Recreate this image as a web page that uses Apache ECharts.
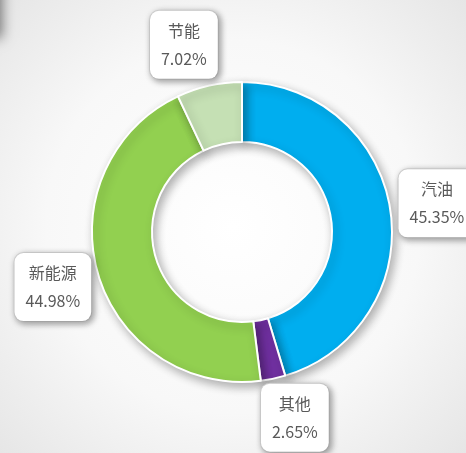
<!DOCTYPE html>
<html lang="zh">
<head>
    <meta charset="UTF-8">
    <title>能源占比</title>
    <style>
        html, body { margin: 0; padding: 0; }
        #main {
            width: 466px;
            height: 453px;
        }
    </style>
</head>
<body>
<div id="main"></div>
<script src="https://cdn.jsdelivr.net/npm/echarts@6/dist/echarts.min.js"></script>
<script>
    // 数据
    const names = ['汽油', '其他', '新能源', '节能'];
    const shares = [45.35, 2.65, 44.98, 7.02];
    const colors = ['#00AEEF', '#7030A0', '#92D050', '#C5E0B4'];

    const dom = document.getElementById('main');
    const myChart = echarts.init(dom, null, {renderer: 'canvas'});

    // 标签微调（像素）
    const labelShift = {'汽油': [0, 0], '其他': [12, -7], '新能源': [0, 0], '节能': [-15, 5]};

    const ringData = names.map((n, i) => ({
        name: n,
        value: shares[i],
        itemStyle: {color: colors[i]}
    }));
    const labelData = names.map((n, i) => ({
        name: n,
        value: shares[i],
        label: {offset: labelShift[n]}
    }));

    const option = {
        backgroundColor: {
            type: 'radial', x: 0.5, y: 0.5, r: 0.75,
            colorStops: [
                {offset: 0, color: '#ffffff'},
                {offset: 0.55, color: '#f8f8f8'},
                {offset: 1, color: '#e4e4e4'}
            ]
        },
        graphic: [{
            type: 'rect',
            left: -40, top: -20,
            shape: {width: 40, height: 58},
            style: {fill: '#ffffff', shadowBlur: 12, shadowColor: 'rgba(0,0,0,0.5)', shadowOffsetX: 2}
        }],
        series: [
            {
                type: 'pie',
                center: [242, 232],
                radius: [90, 150],
                startAngle: 90,
                silent: true,
                label: {show: false},
                labelLine: {show: false},
                itemStyle: {
                    borderColor: '#ffffff',
                    borderWidth: 2,
                    shadowBlur: 10,
                    shadowColor: 'rgba(0,0,0,0.3)',
                    shadowOffsetX: 3,
                    shadowOffsetY: 4
                },
                data: ringData
            },
            {
                // 透明外环，只用来放标签
                type: 'pie',
                center: [242, 232],
                radius: [178, 210],
                startAngle: 90,
                silent: true,
                itemStyle: {color: 'rgba(0,0,0,0)', borderWidth: 0},
                emphasis: {disabled: true},
                label: {
                    show: true,
                    position: 'inside',
                    formatter: p => p.name + '\n' + p.value.toFixed(2) + '%',
                    fontFamily: 'Noto Sans CJK SC',
                    fontSize: 16,
                    lineHeight: 28,
                    color: '#595959',
                    align: 'center',
                    backgroundColor: '#ffffff',
                    borderColor: '#d6d6d6',
                    borderWidth: 1,
                    borderRadius: 9,
                    padding: [6, 11],
                    shadowBlur: 6,
                    shadowColor: 'rgba(0,0,0,0.35)',
                    shadowOffsetX: 2,
                    shadowOffsetY: 2
                },
                labelLine: {show: false},
                data: labelData
            }
        ]
    };

    myChart.setOption(option);
</script>
</body>
</html>
